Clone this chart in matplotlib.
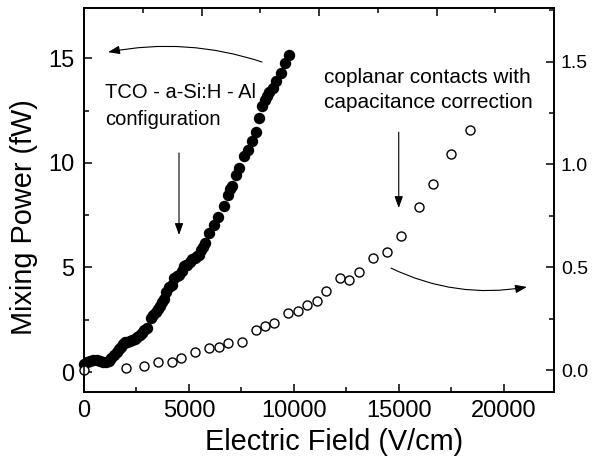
import numpy as np
import matplotlib
matplotlib.use("Agg")
import matplotlib.pyplot as plt
from matplotlib.ticker import MultipleLocator, FormatStrFormatter

plt.rcParams['font.family'] = ['Liberation Sans', 'DejaVu Sans']

# TCO - a-Si:H - Al configuration (left axis, fW)
field_tco = [0, 150, 300, 450, 600, 750, 900, 1050, 1200, 1300,
             1430, 1550, 1650, 1750, 1850, 1950, 2060, 2180, 2300, 2420,
             2540, 2650, 2750, 2880, 3010, 3170, 3300, 3410, 3520, 3610,
             3720, 3810, 3920, 4050, 4180, 4290, 4420, 4530, 4650, 4760,
             4860, 4930, 5040, 5160, 5280, 5400, 5480, 5560, 5660, 5760,
             5950, 6190, 6400, 6660, 6860, 6980, 7060, 7250, 7410, 7620,
             7830, 7990, 8210, 8330, 8490, 8640, 8730, 8840, 9000, 9160,
             9370, 9570, 9790]
power_tco = [0.37, 0.48, 0.55, 0.6, 0.58, 0.55, 0.5, 0.48, 0.52, 0.66,
             0.82, 0.95, 1.09, 1.22, 1.36, 1.42, 1.44, 1.5, 1.53, 1.6,
             1.7, 1.78, 1.86, 2.0, 2.13, 2.59, 2.72, 2.86, 3.02, 3.18,
             3.35, 3.5, 3.82, 4.06, 4.14, 4.51, 4.58, 4.62, 4.85, 5.06,
             5.1, 5.14, 5.25, 5.39, 5.45, 5.54, 5.6, 5.83, 6.0, 6.15,
             6.63, 7.03, 7.43, 7.95, 8.48, 8.75, 8.88, 9.44, 9.76, 10.32,
             10.6, 11.05, 11.48, 12.15, 12.7, 13.0, 13.18, 13.4, 13.6, 13.89,
             14.3, 14.77, 15.15]

# coplanar contacts with capacitance correction (right axis)
field_cop = [0, 1985, 2873, 3524, 4206, 4635, 5302, 5968, 6413, 6857,
             7508, 8206, 8635, 9079, 9730, 10190, 10635, 11111, 11556, 12206,
             12651, 13095, 13762, 14429, 15095, 15984, 16635, 17508, 18381]
power_cop = [0.0, 0.01, 0.02, 0.043, 0.04, 0.061, 0.088, 0.107, 0.112, 0.135,
             0.138, 0.196, 0.217, 0.23, 0.278, 0.286, 0.318, 0.338, 0.385, 0.451,
             0.438, 0.477, 0.544, 0.573, 0.654, 0.793, 0.907, 1.05, 1.167]

W, H = 593, 469
fig = plt.figure(figsize=(W / 100, H / 100), dpi=100)
ax = fig.add_axes([84 / W, 1 - 392 / H, 470 / W, 384 / H])

ax.plot(field_tco, power_tco, 'o', color='black', markersize=7.2, clip_on=False, zorder=3)
ax.set_xlim(0, 22400)
ax.set_ylim(-0.95, 17.4)

ax2 = ax.twinx()
ax2.plot(field_cop, power_cop, 'o', mfc='white', mec='black', mew=1.0,
         markersize=6.5, clip_on=False, zorder=3)
ax2.set_ylim(-0.105, 1.76)

# top ticks (no labels)
ax3 = ax.twiny()
ax3.set_xlim(0, 8)
ax3.xaxis.set_major_locator(MultipleLocator(2))
ax3.xaxis.set_minor_locator(MultipleLocator(1))
ax3.tick_params(axis='x', which='both', top=True, labeltop=False, direction='in')
ax3.tick_params(axis='x', which='major', length=6, width=1.1)
ax3.tick_params(axis='x', which='minor', length=3.5, width=1.1)

ax.xaxis.set_major_locator(MultipleLocator(5000))
ax.xaxis.set_minor_locator(MultipleLocator(2500))
ax.yaxis.set_major_locator(MultipleLocator(5))
ax.yaxis.set_minor_locator(MultipleLocator(2.5))
ax2.yaxis.set_major_locator(MultipleLocator(0.5))
ax2.yaxis.set_minor_locator(MultipleLocator(0.25))
ax2.yaxis.set_major_formatter(FormatStrFormatter('%.1f'))

ax.tick_params(which='both', direction='in', top=False, right=False, width=1.1)
ax.tick_params(which='major', length=6)
ax.tick_params(which='minor', length=3.5)
ax.tick_params(axis='x', labelsize=17, pad=6)
ax.tick_params(axis='y', labelsize=17, pad=7)
ax2.tick_params(which='both', direction='in', width=1.1)
ax2.tick_params(which='major', length=6, labelsize=14, pad=5)
ax2.tick_params(which='minor', length=3.5)

for a in (ax, ax2, ax3):
    for s in a.spines.values():
        s.set_linewidth(1.1)

ax.set_xlabel("Electric Field (V/cm)", fontsize=20.8)
ax.set_ylabel("Mixing Power (fW)", fontsize=20.8)
ax.xaxis.set_label_coords(0.532, -0.095)
ax.yaxis.set_label_coords(-0.097, 0.456)

# annotations
ax.text(1000, 12.72, "TCO - a-Si:H - Al\nconfiguration", fontsize=14.5,
        ha='left', va='center', linespacing=1.55)
ax.text(11438, 13.48, "coplanar contacts with\ncapacitance correction", fontsize=15,
        ha='left', va='center', linespacing=1.45)

arrow_kw = dict(arrowstyle='-|>,head_length=0.5,head_width=0.18', color='black',
                lw=0.8, mutation_scale=14, shrinkA=0, shrinkB=0)
ax.annotate('', xy=(1144, 15.29), xytext=(8483, 14.82),
            arrowprops=dict(connectionstyle='arc3,rad=0.13', **arrow_kw))
ax.annotate('', xy=(4528, 6.55), xytext=(4528, 10.47), arrowprops=arrow_kw)
ax.annotate('', xy=(15000, 7.84), xytext=(15000, 11.47), arrowprops=arrow_kw)
ax.annotate('', xy=(21113, 4.07), xytext=(14632, 4.97),
            arrowprops=dict(connectionstyle='arc3,rad=0.16', **arrow_kw))

fig.savefig("out.png", dpi=100)
